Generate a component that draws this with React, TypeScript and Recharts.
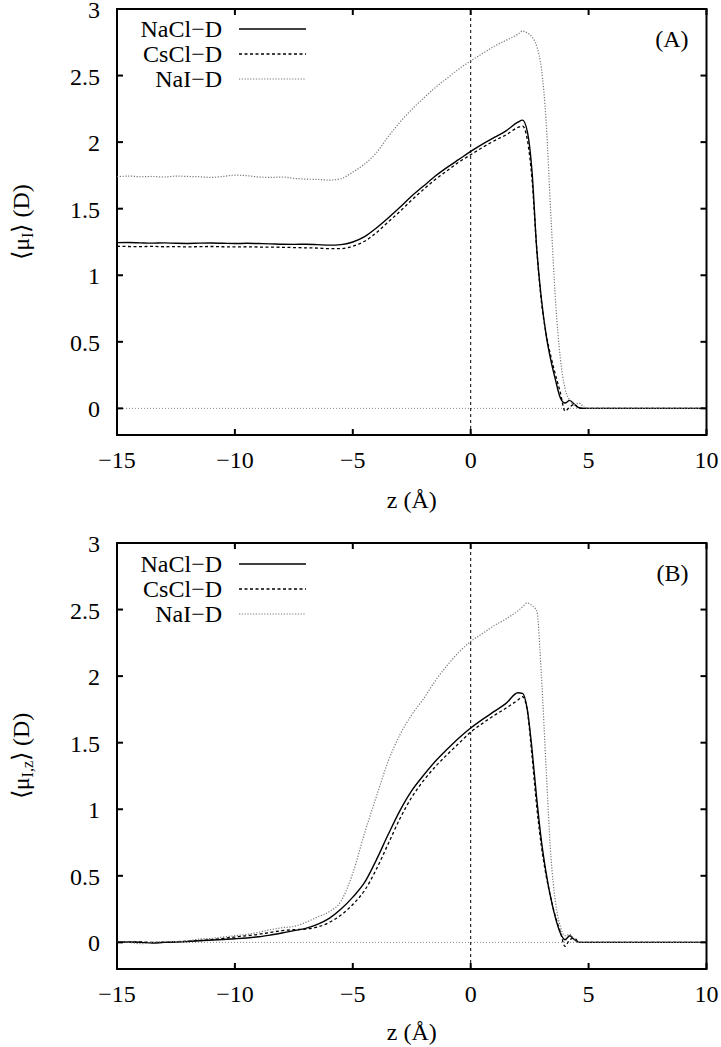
import React from 'react';
import { LineChart, Line, XAxis, YAxis, ReferenceLine, ReferenceArea, Legend } from 'recharts';

const FONT = '"Liberation Serif", "Times New Roman", serif';

const zValues = [
  -15, -14.5, -14, -13.5, -13, -12.5, -12, -11.5, -11, -10.5, -10, -9.5, -9, -8.5, -8, -7.5, -7, -6.5, -6, -5.5,
  -5, -4.5, -4, -3.5, -3, -2.5, -2, -1.5, -1, -0.5, 0, 0.5, 1, 1.5, 2,
  2.2, 2.4, 2.6, 2.8, 3.0, 3.2, 3.4, 3.6, 3.8, 4.0, 4.2, 4.4, 4.6, 4.8, 5.0,
  6, 7, 8, 9, 10,
];

// Panel (A): <mu_I>
const naclA = [
  1.245, 1.246, 1.243, 1.241, 1.243, 1.240, 1.239, 1.241, 1.242, 1.240, 1.238, 1.240, 1.238, 1.236, 1.233, 1.232, 1.233, 1.230, 1.226, 1.230,
  1.250, 1.290, 1.355, 1.430, 1.510, 1.595, 1.670, 1.745, 1.810, 1.870, 1.930, 1.985, 2.035, 2.085, 2.150,
  2.165, 2.080, 1.780, 1.200, 0.820, 0.550, 0.360, 0.210, 0.080, 0.040, 0.060, 0.030, 0.005, 0, 0,
  0, 0, 0, 0, 0,
];
const csclA = [
  1.218, 1.216, 1.215, 1.217, 1.214, 1.215, 1.213, 1.215, 1.216, 1.214, 1.213, 1.214, 1.212, 1.211, 1.210, 1.208, 1.206, 1.204, 1.200, 1.200,
  1.218, 1.255, 1.320, 1.400, 1.480, 1.565, 1.645, 1.720, 1.785, 1.850, 1.905, 1.960, 2.010, 2.055, 2.110,
  2.120, 2.020, 1.720, 1.200, 0.800, 0.560, 0.390, 0.250, 0.120, -0.020, 0.010, 0.030, 0.000, 0, 0,
  0, 0, 0, 0, 0,
];
const naiA = [
  1.740, 1.745, 1.740, 1.742, 1.738, 1.745, 1.742, 1.740, 1.735, 1.742, 1.752, 1.748, 1.738, 1.735, 1.738, 1.728, 1.722, 1.720, 1.715, 1.725,
  1.775, 1.835, 1.920, 2.040, 2.150, 2.245, 2.330, 2.410, 2.480, 2.550, 2.610, 2.665, 2.720, 2.765, 2.810,
  2.835, 2.820, 2.790, 2.720, 2.550, 2.150, 1.450, 0.800, 0.380, 0.150, 0.060, 0.030, 0.040, 0.010, 0,
  0, 0, 0, 0, 0,
];

// Panel (B): <mu_I,z>
const naclB = [
  0.000, 0.003, 0.000, -0.005, 0.000, 0.002, 0.006, 0.012, 0.018, 0.022, 0.027, 0.033, 0.042, 0.055, 0.070, 0.088, 0.105, 0.135, 0.180, 0.250,
  0.340, 0.450, 0.620, 0.810, 0.990, 1.140, 1.255, 1.360, 1.450, 1.535, 1.610, 1.675, 1.735, 1.795, 1.875,
  1.870, 1.750, 1.450, 1.080, 0.760, 0.520, 0.330, 0.180, 0.070, 0.020, 0.050, 0.020, 0.000, 0, 0,
  0, 0, 0, 0, 0,
];
const csclB = [
  0.000, 0.002, 0.003, 0.000, 0.002, 0.005, 0.010, 0.015, 0.020, 0.030, 0.040, 0.050, 0.060, 0.075, 0.088, 0.095, 0.100, 0.115, 0.150, 0.205,
  0.285, 0.390, 0.550, 0.740, 0.930, 1.090, 1.215, 1.320, 1.410, 1.495, 1.580, 1.645, 1.705, 1.760, 1.820,
  1.845, 1.740, 1.400, 1.020, 0.720, 0.500, 0.330, 0.190, 0.080, -0.030, 0.020, 0.030, 0.000, 0, 0,
  0, 0, 0, 0, 0,
];
const naiB = [
  0.005, 0.000, -0.010, 0.000, 0.005, 0.005, 0.012, 0.025, 0.030, 0.040, 0.050, 0.060, 0.075, 0.095, 0.110, 0.120, 0.150, 0.190, 0.230, 0.310,
  0.520, 0.820, 1.095, 1.360, 1.560, 1.710, 1.830, 1.965, 2.080, 2.180, 2.260, 2.320, 2.380, 2.430, 2.490,
  2.520, 2.550, 2.530, 2.490, 2.000, 1.300, 0.650, 0.300, 0.120, 0.050, 0.060, 0.020, 0.000, 0, 0,
  0, 0, 0, 0, 0,
];

const xTicks = [-15, -10, -5, 0, 5, 10];
const yTicks = [0, 0.5, 1, 1.5, 2, 2.5, 3];
const seriesNames = ['NaCl\u2212D', 'CsCl\u2212D', 'NaI\u2212D'];
const seriesKeys = ['nacl', 'cscl', 'nai'];

const seriesStyle: Record<string, { stroke: string; width: number; dash?: string }> = {
  nacl: { stroke: '#000', width: 1.4 },
  cscl: { stroke: '#000', width: 1.3, dash: '3 2.5' },
  nai: { stroke: '#777', width: 1.2, dash: '1.2 1.6' },
};

const fmt = (v: number) => (v < 0 ? '\u2212' + Math.abs(v) : String(v));

const buildData = (a: number[], b: number[], c: number[]) =>
  zValues.map((z, i) => ({ z, nacl: a[i], cscl: b[i], nai: c[i] }));

const dataA = buildData(naclA, csclA, naiA);
const dataB = buildData(naclB, csclB, naiB);

const W = 721;
const PLOT_LEFT = 117;
const PLOT_RIGHT = 706.5;
const PLOT_W = PLOT_RIGHT - PLOT_LEFT;

function XTick(props: any) {
  const { x, y, payload, plotH } = props;
  return (
    <g>
      <line x1={x} y1={y} x2={x} y2={y - 6} stroke="#000" strokeWidth={2} />
      <line x1={x} y1={y - plotH} x2={x} y2={y - plotH + 6} stroke="#000" strokeWidth={2} />
      <text x={x} y={y + 33} textAnchor="middle" fontFamily={FONT} fontSize={24} fill="#000">
        {fmt(payload.value)}
      </text>
    </g>
  );
}

function YTick(props: any) {
  const { x, y, payload } = props;
  return (
    <g>
      <line x1={x} y1={y} x2={x + 6} y2={y} stroke="#000" strokeWidth={2} />
      <line x1={x + PLOT_W - 6} y1={y} x2={x + PLOT_W} y2={y} stroke="#000" strokeWidth={2} />
      <text x={x - 17} y={y + 9} textAnchor="end" fontFamily={FONT} fontSize={24} fill="#000">
        {fmt(payload.value)}
      </text>
    </g>
  );
}

function LegendBox() {
  return (
    <svg width={200} height={80} style={{ display: 'block', overflow: 'visible' }}>
      {seriesKeys.map((k, i) => {
        const s = seriesStyle[k];
        const cy = 15 + i * 25;
        return (
          <g key={k}>
            <text x={102} y={cy + 8} textAnchor="end" fontFamily={FONT} fontSize={24} fill="#000">
              {seriesNames[i]}
            </text>
            <line x1={119} x2={186} y1={cy} y2={cy} stroke={s.stroke} strokeWidth={s.width} strokeDasharray={s.dash} />
          </g>
        );
      })}
    </svg>
  );
}

function Panel(props: {
  data: any[];
  height: number;
  top: number;
  bottom: number;
  tag: string;
  sub: string;
  legendTop: number;
  xTitleDy: number;
}) {
  const { data, height, top, bottom, tag, sub, legendTop, xTitleDy } = props;
  const plotH = bottom - top;
  return (
    <LineChart
      width={W}
      height={height}
      data={data}
      margin={{ top, right: W - PLOT_RIGHT, left: 0, bottom: 0 }}
      style={{ fontFamily: FONT }}
    >
      <XAxis
        dataKey="z"
        type="number"
        domain={[-15, 10]}
        ticks={xTicks}
        interval={0}
        allowDataOverflow
        height={height - bottom}
        tickLine={false}
        axisLine={false}
        tickSize={0}
        tickMargin={0}
        tick={(p: any) => <XTick {...p} plotH={plotH} />}
        label={{
          content: (p: any) => {
            const vb = p.viewBox || {};
            return (
              <text x={vb.x + vb.width / 2} y={vb.y + xTitleDy} textAnchor="middle" fontFamily={FONT} fontSize={24} fill="#000">
                z (Å)
              </text>
            );
          },
        }}
      />
      <YAxis
        type="number"
        domain={[-0.2, 3]}
        ticks={yTicks}
        interval={0}
        allowDataOverflow
        width={PLOT_LEFT}
        tickLine={false}
        axisLine={false}
        tickSize={0}
        tickMargin={0}
        tick={(p: any) => <YTick {...p} />}
        label={{
          content: (p: any) => {
            const vb = p.viewBox || {};
            const cx = vb.x + 21;
            const cy = vb.y + vb.height / 2;
            return (
              <text
                x={cx}
                y={cy}
                transform={`rotate(-90 ${cx} ${cy})`}
                textAnchor="middle"
                dominantBaseline="central"
                fontFamily={FONT}
                fontSize={24}
                fill="#000"
              >
                {'\u27E8\u03BC'}
                <tspan dy={6} fontSize={16}>{sub}</tspan>
                <tspan dy={-6}>{'\u27E9 (D)'}</tspan>
              </text>
            );
          },
        }}
      />
      <ReferenceLine y={0} stroke="#888" strokeWidth={1} strokeDasharray="1 2" />
      <ReferenceLine x={0} stroke="#000" strokeWidth={1} strokeDasharray="3 3" />
      {seriesKeys.map((k, i) => (
        <Line
          key={k}
          dataKey={k}
          name={seriesNames[i]}
          type="monotone"
          stroke={seriesStyle[k].stroke}
          strokeWidth={seriesStyle[k].width}
          strokeDasharray={seriesStyle[k].dash}
          dot={false}
          activeDot={false}
          isAnimationActive={false}
        />
      ))}
      <ReferenceArea
        x1={-15}
        x2={10}
        y1={-0.2}
        y2={3}
        fill="none"
        fillOpacity={0}
        stroke="#000"
        strokeWidth={2}
        ifOverflow="visible"
        label={{
          content: (p: any) => {
            const vb = p.viewBox || {};
            return (
              <text x={vb.x + vb.width - 18} y={vb.y + 38} textAnchor="end" fontFamily={FONT} fontSize={24} fill="#000">
                {tag}
              </text>
            );
          },
        }}
      />
      <Legend
        layout="vertical"
        align="center"
        verticalAlign="middle"
        wrapperStyle={{ position: 'absolute', left: 120, top: legendTop, width: 200, height: 80 }}
        content={() => <LegendBox />}
      />
    </LineChart>
  );
}

export default function App() {
  return (
    <div style={{ position: 'absolute', left: 0, top: 0, width: W, height: 1047, background: '#fff' }}>
      <div style={{ position: 'absolute', left: 0, top: 0 }}>
        <Panel data={dataA} height={520} top={9} bottom={435} tag="(A)" sub="I" legendTop={14} xTitleDy={73} />
      </div>
      <div style={{ position: 'absolute', left: 0, top: 520 }}>
        <Panel data={dataB} height={527} top={23} bottom={449} tag="(B)" sub="I,z" legendTop={28.5} xTitleDy={71} />
      </div>
    </div>
  );
}
